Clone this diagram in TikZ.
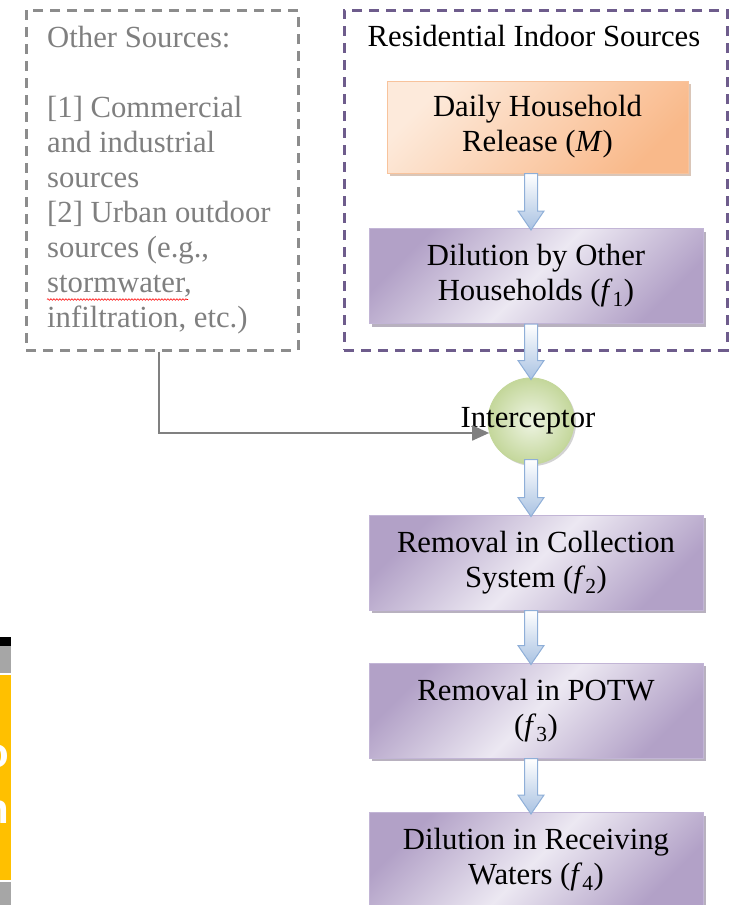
\documentclass[tikz,border=0pt]{standalone}
\usepackage{fontspec}
\setmainfont{Liberation Serif}
\newfontfamily\artsans{Liberation Sans}
\usetikzlibrary{shadows,calc,decorations.pathmorphing,arrows.meta}
\definecolor{grayline}{HTML}{8C8C8C}
\definecolor{graytext}{HTML}{7F7F7F}
\definecolor{purpline}{HTML}{6E5C8C}
\definecolor{pdark}{HTML}{B2A1C7}
\definecolor{plight}{HTML}{ECE8F2}
\definecolor{pedge}{HTML}{C2B5D6}
\definecolor{odark}{HTML}{F9B98A}
\definecolor{olight}{HTML}{FDEADB}
\definecolor{oedge}{HTML}{F8C39C}
\definecolor{gin}{HTML}{EEF4E3}
\definecolor{gout}{HTML}{C4D79B}
\definecolor{bedge}{HTML}{8FAFD8}
\definecolor{bfill}{HTML}{A9C2E2}
\definecolor{conncol}{HTML}{808080}
\definecolor{artyellow}{HTML}{FFC000}
\definecolor{artgray}{HTML}{A6A6A6}
\newcommand\blockarrow[2]{%
  \path[blockarr] let \p1=(#1), \p2=(#2) in
    (\x1-6.5pt,\y1) -- (\x1+6.5pt,\y1) -- (\x1+6.5pt,\y2+19pt) -- (\x1+13pt,\y2+19pt)
    -- (\x1,\y2) -- (\x1-13pt,\y2+19pt) -- (\x1-6.5pt,\y2+19pt) -- cycle;}
\tikzset{
  txt/.style={font=\fontsize{30.7}{35}\selectfont, inner sep=0pt, align=center},
  gbox/.style={draw=grayline, line width=3pt, dash pattern=on 10pt off 7pt, rectangle, inner sep=0pt},
  pbox/.style={draw=purpline, line width=3pt, dash pattern=on 10pt off 7pt, rectangle, inner sep=0pt},
  procbox/.style={rectangle, txt, minimum width=334pt, minimum height=95pt,
    left color=pdark, right color=pdark, middle color=plight, shading angle=45,
    draw=pedge, line width=1pt,
    drop shadow={shadow xshift=3pt, shadow yshift=-3pt, opacity=0.55, fill=pdark!70!black}},
  srcbox/.style={rectangle, txt, minimum width=301pt, minimum height=92pt,
    left color=olight, right color=odark, shading angle=45,
    draw=oedge, line width=1pt,
    drop shadow={shadow xshift=3pt, shadow yshift=-3pt, opacity=0.45, fill=odark!70!black}},
  interc/.style={circle, minimum size=86pt, inner sep=0pt, inner color=gin, outer color=gout,
    draw=gout, line width=1pt,
    drop shadow={shadow xshift=2pt, shadow yshift=-2pt, opacity=0.35, fill=gray}},
  blockarr/.style={top color=white, bottom color=bfill, draw=bedge, line width=1pt},
  conn/.style={draw=conncol, line width=1.8pt, -{Triangle[length=17pt,width=15pt]}},
}
\begin{document}
\begin{tikzpicture}[x=1pt,y=-1pt]
\useasboundingbox (0,0) rectangle (736,905);
\clip (0,0) rectangle (736,905);

% container boxes
\node[gbox, minimum width=272pt, minimum height=340pt] (other) at (162,180) {};
\node[pbox, minimum width=383pt, minimum height=340pt] (resbox) at (535.5,180) {};

\node[txt, align=left, anchor=base west, text=graytext] (othertxt) at (47,327)
  {Other Sources:\\[35pt]{}[1] Commercial\\and industrial\\sources\\{}[2] Urban outdoor\\sources (e.g.,\\stormwater,\\infiltration, etc.)};
\draw[red, line width=0.6pt, decoration={snake, amplitude=0.8pt, segment length=3pt}, decorate] (47,299.5) -- (188,299.5);

\node[txt, anchor=base] (restitle) at (534,46) {Residential Indoor Sources};

% process nodes
\node[srcbox] (release) at (537.5,127) {Daily Household\\Release (\textit{M})};
\node[procbox] (dilute) at (536,276) {Dilution by Other\\Households (\textit{f}\textsubscript{1})};
\node[interc] (inter) at (531,421) {};
\node[procbox] (collect) at (536,562.5) {Removal in Collection\\System (\textit{f}\textsubscript{2})};
\node[procbox] (potw) at (536,710.5) {Removal in POTW\\(\textit{f}\textsubscript{3})};
\node[procbox] (receive) at (536,860) {Dilution in Receiving\\Waters (\textit{f}\textsubscript{4})};

% block arrows
\blockarrow{release.south -| inter.center}{$(dilute.north -| inter.center)+(0,2)$}
\blockarrow{dilute.south -| inter.center}{$(inter.north)+(0,2)$}
\blockarrow{$(inter.south)+(0,-5)$}{$(collect.north -| inter.center)+(0,2)$}
\blockarrow{collect.south -| inter.center}{$(potw.north -| inter.center)+(0,2)$}
\blockarrow{potw.south -| inter.center}{$(receive.north -| inter.center)+(0,2)$}

\node[txt] (intertxt) at (528,421) {Interceptor};

% connector from other sources
\draw[conn] ($(other.south)+(-3,0)$) |- (inter.196);

% fragment at left edge
\fill[black] (0,637) rectangle (11,646);
\fill[artgray] (0,646) rectangle (11,673);
\fill[artyellow] (0,675) rectangle (11,880);
\fill[artgray] (0,882) rectangle (11,905);
\begin{scope}
\clip (0,675) rectangle (11,880);
\node[white, inner sep=0pt, anchor=base east, font=\artsans\bfseries\fontsize{42}{42}\selectfont] (fragO) at (9,767) {o};
\node[white, inner sep=0pt, anchor=base east, font=\artsans\bfseries\fontsize{42}{42}\selectfont] (fragN) at (9,823) {n};
\end{scope}
\end{tikzpicture}
\end{document}
